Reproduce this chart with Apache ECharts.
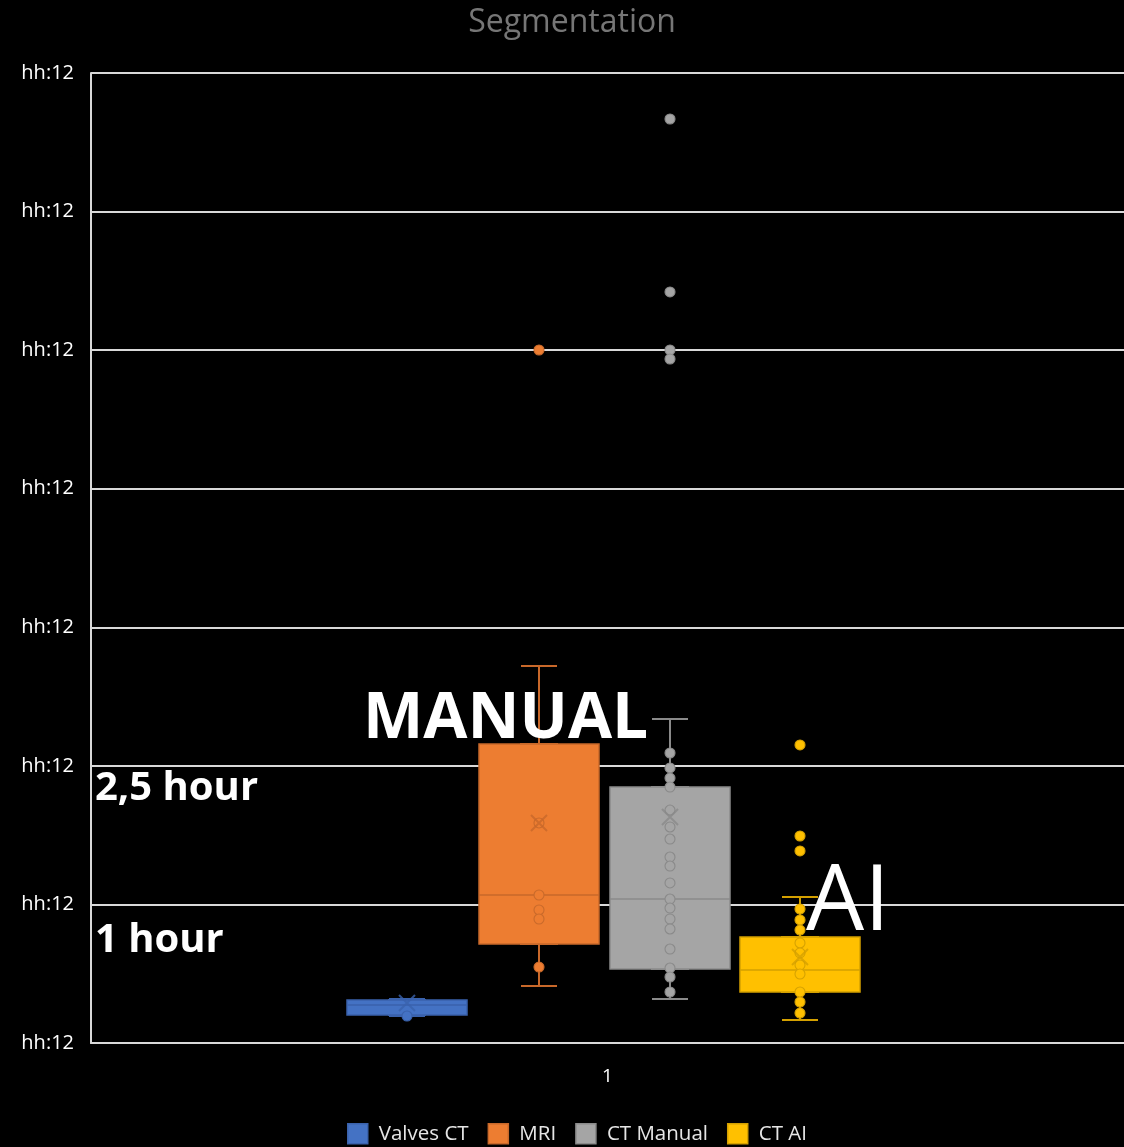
<!DOCTYPE html>
<html><head><meta charset="utf-8">
<script src="https://cdn.jsdelivr.net/npm/echarts@6/dist/echarts.min.js"></script>
<style>html,body{margin:0;padding:0;background:#000}#c{width:1124px;height:1147px}</style>
</head><body><div id="c"></div>
<script>
// ---- data ----
const categories = ['1'];
const seriesNames = ['Valves CT', 'MRI', 'CT Manual', 'CT AI'];
const yTickLabels = ['hh:12', 'hh:12', 'hh:12', 'hh:12', 'hh:12', 'hh:12', 'hh:12', 'hh:12'];
// [min, Q1, median, Q3, max] (in grid-step units)
const valvesCtBox = [0.195, 0.202, 0.274, 0.310, 0.318];
const mriBox = [0.411, 0.714, 1.068, 2.158, 2.721];
const ctManualBox = [0.318, 0.534, 1.039, 1.847, 2.338];
const ctAiBox = [0.166, 0.368, 0.527, 0.765, 1.054];
const means = [0.289, 1.588, 1.631, 0.621];
const valvesCtPoints = [0.195];
const mriPoints = [5.001, 1.588, 1.068, 0.960, 0.895, 0.548];
const ctManualPoints = [6.668, 5.420, 5.001, 4.936, 2.093, 1.985, 1.912, 1.847, 1.681, 1.559, 1.472, 1.342, 1.277, 1.155, 1.039, 0.974, 0.895, 0.823, 0.678, 0.541, 0.476, 0.368];
const ctAiPoints = [2.151, 1.494, 1.386, 0.967, 0.888, 0.815, 0.722, 0.650, 0.563, 0.498, 0.368, 0.296, 0.216];

// ---- chart ----
const chart = echarts.init(document.getElementById('c'), null, {renderer: 'canvas'});
const FONT = 'Open Sans';
const centers = [407, 539, 670, 800];
const fills = ['#4472C4', '#ED7D31', '#A5A5A5', '#FFC000'];
const edges = ['#3A62AC', '#C8682A', '#8A8A8A', '#D4A000'];
const dotEdges = ['#3A62AC', '#C96A2B', '#8A8A8A', '#D6A200'];
const boxes = [valvesCtBox, mriBox, ctManualBox, ctAiBox];
const points = [valvesCtPoints, mriPoints, ctManualPoints, ctAiPoints];

const grids = [{left: 91, right: 0, top: 73, bottom: 104}];
const xAxes = [{
  gridIndex: 0, type: 'category', data: categories,
  axisTick: {show: false},
  axisLine: {lineStyle: {color: '#d9d9d9', width: 2}},
  axisLabel: {color: '#ffffff', fontSize: 19, fontFamily: FONT, margin: 24},
  splitLine: {show: false}
}];
const yAxes = [{
  gridIndex: 0, type: 'value', min: 0, max: 7, interval: 1,
  axisLine: {show: true, lineStyle: {color: '#d9d9d9', width: 2}},
  axisTick: {show: false},
  splitLine: {show: true, lineStyle: {color: '#d9d9d9', width: 2}},
  axisLabel: {color: '#ffffff', fontSize: 20, fontFamily: FONT, margin: 17,
    formatter: function (v) { return yTickLabels[Math.round(v)]; }}
}];
const series = [];
centers.forEach(function (c, i) {
  const g = i + 1;
  grids.push({left: c - 65, width: 130, top: 73, bottom: 104});
  const xWhisk = xAxes.length;
  xAxes.push({gridIndex: g, type: 'category', data: categories, show: false});
  const xBox = xAxes.length;
  xAxes.push({gridIndex: g, type: 'category', data: categories, show: false});
  const yIdx = yAxes.length;
  yAxes.push({gridIndex: g, type: 'value', min: 0, max: 7, show: false, splitLine: {show: false}});
  const b = boxes[i];
  series.push({
    type: 'boxplot', name: seriesNames[i] + ' whiskers', xAxisIndex: xWhisk, yAxisIndex: yIdx,
    boxWidth: [36, 36], z: 2, silent: true,
    data: [b],
    itemStyle: {color: fills[i], borderColor: edges[i], borderWidth: 2}
  });
  series.push({
    type: 'boxplot', name: seriesNames[i], xAxisIndex: xBox, yAxisIndex: yIdx,
    boxWidth: [120, 120], z: 3,
    data: [[b[1], b[1], b[2], b[3], b[3]]],
    itemStyle: {color: fills[i], borderColor: edges[i], borderWidth: 1.5}
  });
  series.push({
    type: 'scatter', name: seriesNames[i] + ' points', xAxisIndex: xBox, yAxisIndex: yIdx,
    z: 4, symbol: 'circle', symbolSize: 10,
    data: points[i].map(function (v) { return [0, v]; }),
    itemStyle: {color: fills[i], borderColor: dotEdges[i], borderWidth: 1.1, opacity: 1}
  });
  series.push({
    type: 'scatter', name: seriesNames[i] + ' mean', xAxisIndex: xBox, yAxisIndex: yIdx,
    z: 5, symbol: 'path://M0,0L10,10M10,0L0,10', symbolSize: 16,
    data: [[0, means[i]]],
    itemStyle: {color: 'none', borderColor: edges[i], borderWidth: 2}
  });
});

chart.setOption({
  backgroundColor: '#000000',
  animation: false,
  grid: grids,
  xAxis: xAxes,
  yAxis: yAxes,
  legend: {
    data: seriesNames.map(function (n, i) {
      return {name: n, itemStyle: {color: fills[i], borderColor: edges[i], borderWidth: 1.5}};
    }),
    icon: 'rect', itemWidth: 20, itemHeight: 20, itemGap: 19,
    left: 342, top: 1118,
    textStyle: {color: '#e6e6e6', fontSize: 20.5, fontFamily: FONT, padding: [0, 0, 0, 6]}
  },
  series: series,
  graphic: [
    {type: 'text', z: 100, style: {text: 'Segmentation', x: 572, y: 23, align: 'center', verticalAlign: 'middle',
      fill: '#767676', fontSize: 32, fontFamily: FONT}},
    {type: 'text', z: 100, style: {text: 'MANUAL', x: 363, y: 720, align: 'left', verticalAlign: 'middle',
      fill: '#ffffff', fontSize: 64, fontWeight: 'bold', fontFamily: FONT}},
    {type: 'text', z: 100, style: {text: '2,5 hour', x: 95, y: 789, align: 'left', verticalAlign: 'middle',
      fill: '#ffffff', fontSize: 40, fontWeight: 'bold', fontFamily: FONT}},
    {type: 'text', z: 100, style: {text: '1 hour', x: 95, y: 941, align: 'left', verticalAlign: 'middle',
      fill: '#ffffff', fontSize: 40, fontWeight: 'bold', fontFamily: FONT}},
    {type: 'text', z: 100, style: {text: 'AI', x: 806, y: 904, align: 'left', verticalAlign: 'middle',
      fill: '#ffffff', fontSize: 92, fontFamily: FONT}}
  ]
});
</script>
</body></html>
